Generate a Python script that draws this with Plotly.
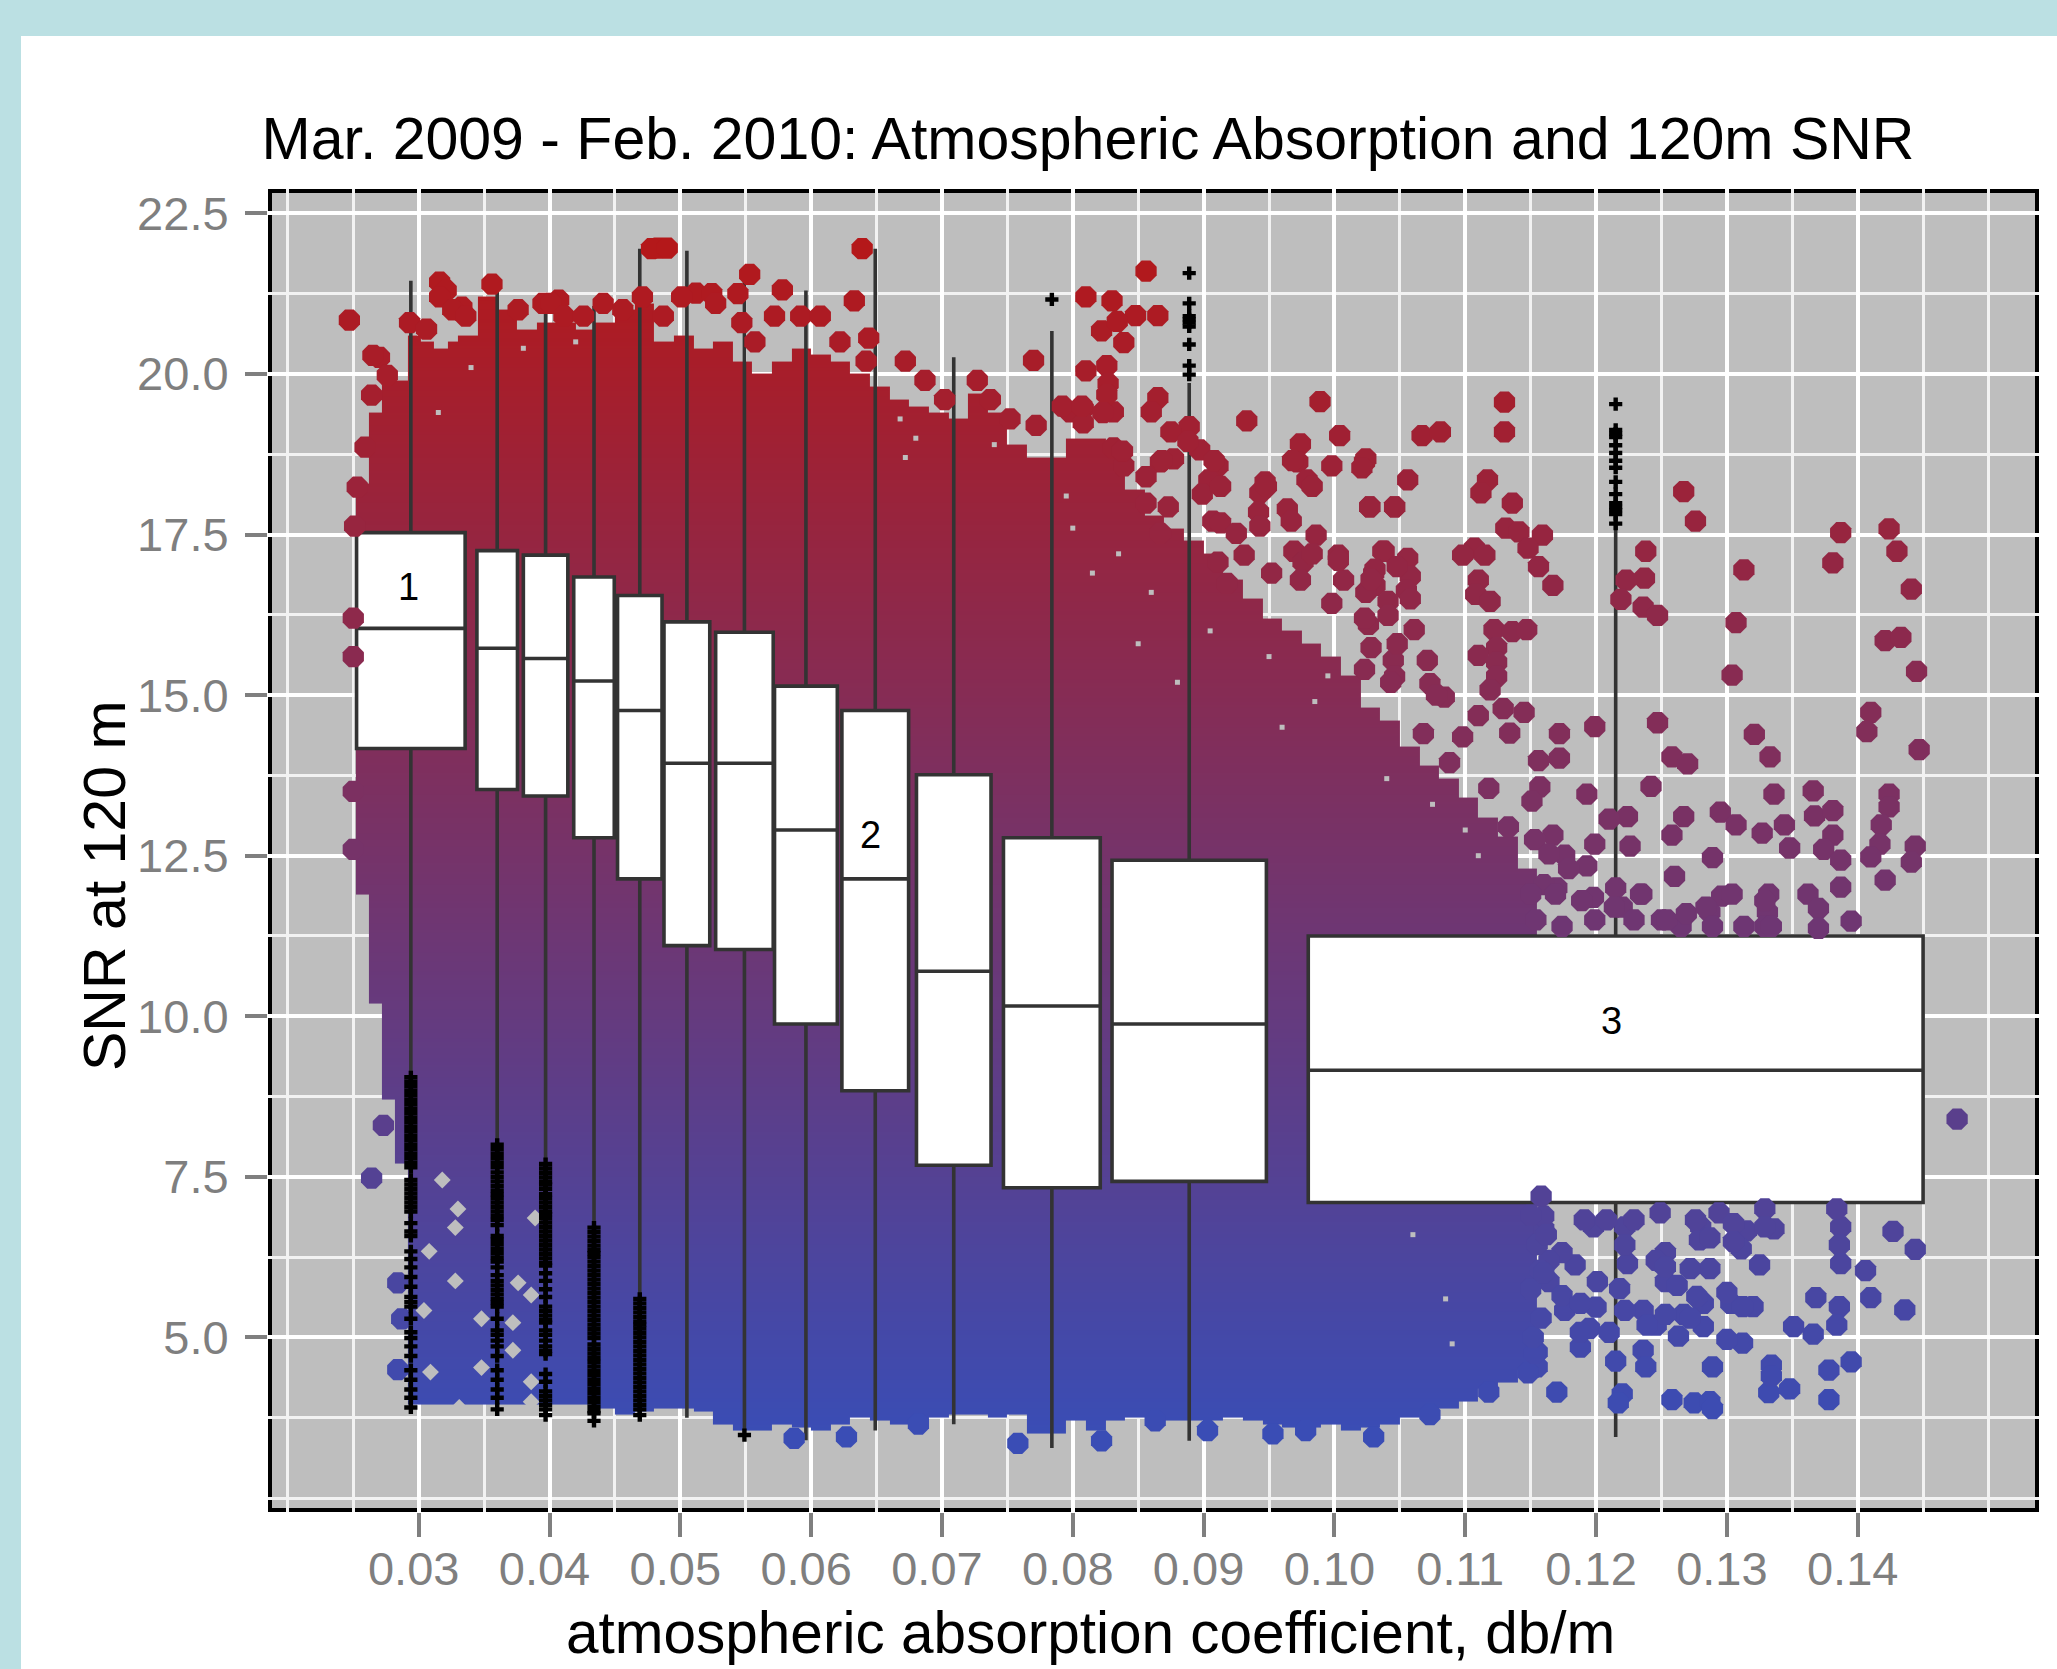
import numpy as np
import plotly.graph_objects as go

TITLE = "Mar. 2009 - Feb. 2010: Atmospheric Absorption and 120m SNR"
X_LABEL = "atmospheric absorption coefficient, db/m"
Y_LABEL = "SNR at 120 m"
x_ticks = [0.03, 0.04, 0.05, 0.06, 0.07, 0.08, 0.09, 0.10, 0.11, 0.12, 0.13, 0.14]
x_tick_labels = ["0.03", "0.04", "0.05", "0.06", "0.07", "0.08", "0.09", "0.10", "0.11", "0.12", "0.13", "0.14"]
x_minor = [0.02, 0.025, 0.035, 0.045, 0.055, 0.065, 0.075, 0.085, 0.095, 0.105, 0.115, 0.125, 0.135, 0.145, 0.15]
y_ticks = [5.0, 7.5, 10.0, 12.5, 15.0, 17.5, 20.0, 22.5]
y_tick_labels = ["5.0", "7.5", "10.0", "12.5", "15.0", "17.5", "20.0", "22.5"]
y_minor = [2.5, 3.75, 6.25, 8.75, 11.25, 13.75, 16.25, 18.75, 21.25]

# dense part of the point cloud: column edges with the top and bottom of the mass
cloud_edges = [.0252,.0262,.0272,.0282,.0292,.0302,.0312,.0322,.0330,.0345,.0360,.0375,.0390,.0405,.0420,.0435,.0450,.0465,.0480,.0495,.0510,.0525,.0540,.0555,.0570,.0585,.0600,.0615,.0630,.0645,.0660,.0675,.0690,.0705,.0720,.0735,.0750,.0765,.0780,.0795,.0810,.0825,.0840,.0855,.0870,.0885,.0900,.0915,.0930,.0945,.0960,.0975,.0990,.1005,.1020,.1035,.1050,.1065,.1080,.1095,.1110,.1125,.1140,.1155]
cloud_top = [18.3,19.4,19.9,19.9,20.6,20.5,20.4,20.5,20.6,21.2,21.0,20.7,20.8,20.8,20.7,20.8,21.0,21.1,20.5,20.6,20.4,20.5,20.2,20.0,20.2,20.4,20.3,20.2,20.0,19.8,19.6,19.5,19.4,19.3,19.7,19.4,18.9,18.7,18.7,19.0,19.0,18.8,18.2,17.8,17.6,17.4,17.2,16.8,16.5,16.2,16.0,15.8,15.6,15.3,14.8,14.6,14.2,13.9,13.7,13.4,13.1,12.8,12.3]
cloud_bottom = [11.9,10.2,8.7,7.7,3.95,3.95,3.95,3.95,3.95,3.95,3.95,3.95,3.95,3.95,3.95,3.9,3.8,3.85,3.9,3.9,3.85,3.65,3.55,3.55,3.65,3.6,3.55,3.65,3.75,3.7,3.65,3.7,3.75,3.8,3.8,3.75,3.8,3.5,3.5,3.7,3.55,3.7,3.75,3.65,3.7,3.7,3.7,3.75,3.7,3.65,3.6,3.6,3.65,3.55,3.6,3.65,3.75,3.85,3.9,4.0,4.2,4.3,4.5]

# isolated points around the mass
blob_x = [.0247,.0250,.0250,.0250,.0250,.0316,.0321,.0316,.0333,.0270,.0407,.0395,.0483,.0478,.0490,.0512,.0264,.0284,.0287,.0284,.0273,
 .0639,.0553,.0633,.0578,.0524,.0544,.0644,.0856,.0810,.0830,.0822,.0839,.0865,.0848,.0834,.0770,.0810,.0826,.0827,
 .0989,.0933,.1004,.0974,.0972,.0979,.0998,.1023,.0947,.0943,.1027,.1046,.0964,.0967,.0942,.0986,.0907,.0911,.0904,.0899,.0877,.0867,.0856,.0889,.0875,.0897,.0865,.0860,.0831,.0808,.0798,.0826,.0808,.0831,.0839,.0873,.0856,.0867,.0913,.0925,.0969,.0976,.1003,.1007,.1037,.1030,.0998,.0974,.0952,.0931,.0911,.0918,
 .1130,.1130,.1067,.1081,.1024,.1021,.1056,.1117,.1112,.1027,.1046,.1136,.1267,.1276,.1131,.1141,.1159,.1148,.1387,.1424,.1430,.1381,.1238,.1313,.1107,.1098,.1115,.1038,.1056,.1031,.1058,.1031,.1055,.1024,.1041,.1156,.1167,.1110,.1108,.1119,.1237,.1223,.1219,.1236,.1247,.1441,.1307,.1041,.1026,.1028,.1061,.1122,.1136,.1147,.1124,.1110,.1124,.1124,.1119,.1421,.1433,.1445,.1304,.1045,.1071,.1046,.1073,.1084,.1410,.1407,.1447,.1110,.1129,.1145,.1134,.1172,.1199,.1247,.1321,.1333,.1172,.1156,.1258,.1270,
 .1157,.1151,.1193,.1242,.1336,.1366,.1424,.1424,.1367,.1381,.1418,.1295,.1307,.1327,.1344,.1267,.1258,.1224,.1210,.1381,.1374,.1348,.1289,.1417,.1410,.1444,.1441,.1387,.1199,.1226,.1167,.1176,.1193,.1260,.1421,.1387,.1296,.1332,.1362,.1370,.1287,.1331,.1395,.1313,.1370,.1329,.1215,.1235,.1250,.1265,.1220,.1198,.1170,.1160,.1150,
 .1476,.1427,.1444,.1387,.1386,.1387,.1406,.1410,.1436,.1368,.1386,.1384,.1366,.1351,.1395,.1378,.1378,.1348,.1332,.1334,.1334,.1325,.1336,.1315,.1311,.1287,.1272,.1280,.1294,.1279,.1320,.1303,.1282,.1282,.1312,.1300,.1263,.1267,.1246,.1236,.1253,.1253,.1249,.1329,.1289,.1258,.1275,.1287,.1289,.1236,.1238,.1215,.1220,.1217,.1170,.1188,.1155,.1155,.1176,.1184,.1201,.1200,.1195,.1210,.1222,.1218,.1224,.1222,.1198,.1160,.1222]
blob_y = [20.84,16.2,15.6,13.5,12.6,21.43,21.3,21.2,21.04,20.26,21.15,21.1,21.96,21.95,21.96,21.26,7.48,5.85,5.29,4.5,8.3,
 21.95,21.55,21.14,21.31,21.25,21.25,20.56,21.6,21.2,21.14,20.67,20.49,20.91,20.91,20.82,20.21,20.05,20.13,19.85,
 19.57,19.27,19.04,18.91,18.63,18.35,18.57,18.63,18.32,18.15,17.93,17.93,17.9,17.71,17.85,17.49,17.71,18.57,18.35,18.13,18.68,18.63,18.4,19.18,19.1,18.82,19.63,19.41,19.41,19.46,19.41,19.68,19.24,18.85,18.57,17.93,17.99,17.52,17.68,17.52,17.24,17.07,17.18,16.79,17.24,16.9,16.43,16.79,16.9,17.18,17.07,16.74,
 19.56,19.1,19.04,19.1,18.68,18.54,18.35,18.35,18.15,17.93,17.93,17.99,18.17,17.71,17.6,17.54,17.49,17.29,17.53,17.59,17.24,17.06,17.24,16.95,17.29,17.18,17.18,17.24,17.13,16.96,16.85,16.71,16.63,16.6,16.46,17.0,16.71,16.79,16.57,16.46,16.82,16.79,16.49,16.37,16.24,16.65,16.13,16.24,16.1,15.74,16.02,16.02,15.99,16.02,15.74,15.62,15.51,15.29,15.08,15.85,15.9,15.37,15.31,15.54,15.54,15.29,15.18,14.97,14.73,14.43,14.15,14.68,14.79,14.73,14.41,14.4,14.51,14.57,14.39,14.04,14.02,13.98,14.04,13.93,
 13.57,13.35,13.46,13.58,13.46,13.51,13.46,13.26,13.12,13.2,12.98,13.18,12.98,12.85,12.98,13.11,12.82,13.11,13.07,12.82,12.6,12.62,12.47,12.68,12.48,12.65,12.4,12.43,12.68,12.65,12.82,12.51,12.34,12.18,12.12,12.01,11.87,11.9,11.9,11.68,11.62,11.62,11.48,11.4,11.37,11.4,12.0,11.9,11.5,11.4,11.7,11.85,12.0,12.05,11.9,
 8.40,6.65,6.37,6.72,6.44,6.15,6.04,5.62,5.43,5.62,5.48,5.19,5.05,5.17,4.62,4.49,4.03,4.2,4.14,4.57,4.4,6.13,6.69,6.66,6.38,6.07,6.07,6.72,6.94,6.52,5.48,5.53,5.53,5.17,4.91,4.97,5.02,5.36,5.19,5.42,5.87,6.32,6.94,7.0,4.54,4.03,3.98,4.0,3.89,4.8,4.54,4.63,4.12,3.98,4.15,4.85,4.77,4.54,5.42,6.13,5.87,5.47,5.14,5.08,5.42,5.76,6.15,6.72,6.72,6.69,6.44]

# points that scallop the rim of the mass
edge_x = [.0265,.0276,.0264,.0259,.0253,.0251,.0293,.0306,.0326,.0336,.0356,.0376,.0401,.0411,.0426,.0441,.0456,.0471,.0487,.0501,.0527,.0547,.0557,.0572,.0592,.0607,.0622,.0642,.0672,.0687,.0702,.0727,.0737,.0752,.0772,.0792,.0807,.0823,.0838,.0868,.0888,.0908,
 .0913,.0948,.0968,.0983,.0943,.0983,.1003,.1028,.1048,.1058,.1023,.1048,.1078,.1098,.1118,.1133,.1153,.1023,.1043,.1068,.1088,
 .1164,.1179,.1169,.1189,.1154,.1174,.1199,.1214,.1234,.1229,.1254,.1269,.1284,.1304,.1329,.1334,.1289,
 .1174,.1164,.1157,.1164,.1174,.1188,.1188,.1160,.1191,.1208,.1229,.1246,.1253,.1262,.1277,.1300,.1312,.1272,.1253,.1239,.1276,.1305,.1329,.1287,.1305,.1384,
 .0758,.0822,.0587,.0627,.1030,.0978,.0953,.0903,.0863,.0682,.1073,.1118,.1148,.1153,
 .1152,.1158,.1150,.1160,.1155,.1162,.1150,.1158]
edge_y = [20.29,19.98,19.67,18.86,18.24,17.63,20.8,20.7,21.0,20.9,21.4,21.0,21.1,20.9,20.9,21.1,21.0,21.2,20.9,21.2,21.1,20.8,20.5,20.9,20.9,20.9,20.5,20.2,20.2,19.9,19.6,19.9,19.6,19.3,19.2,19.5,19.5,19.4,18.8,18.65,18.95,18.65,
 18.25,18.25,18.65,18.25,17.63,17.2,17.1,16.8,17.0,16.5,16.2,15.8,15.0,14.35,13.55,12.95,12.75,15.4,15.2,14.4,13.95,
 12.53,12.3,11.9,11.8,11.5,11.4,11.5,11.7,11.9,11.5,11.5,11.6,11.7,11.9,11.8,11.4,11.4,
 6.32,6.2,6.04,5.87,5.65,5.53,5.08,6.89,6.83,6.83,6.83,6.2,6.1,5.81,5.64,5.7,5.48,5.3,5.36,5.19,6.83,6.77,6.72,6.55,6.49,7.0,
 3.35,3.39,3.43,3.45,3.45,3.55,3.5,3.55,3.7,3.65,3.8,4.15,4.45,4.75,
 5.0,5.3,5.75,6.0,6.45,6.6,6.9,7.2]

# larger holes in the mass where the panel shows through (lower left)
gap_x = [.0328,.0330,.0308,.0328,.0304,.0372,.0348,.0376,.0386,.0372,.0348,.0309,.0386,.0331,.0386,.0318,.0389]
gap_y = [6.71,7.0,6.34,5.88,5.42,5.23,5.29,5.85,5.66,4.8,4.53,4.46,4.31,3.91,4.0,7.45,6.86]
# small holes elsewhere
pin_x = [.0668,.0680,.0672,.0740,.0912,.0795,.0800,.0835,.0815,.0860,.1060,.1085,.1090,.0950,.0995,.0985,.0960,.0905,.0880,.0850,.1040,.1075,.1100,.1110,.0380,.0420,.0315,.0340]
pin_y = [19.3,19.0,18.7,18.9,18.3,18.1,17.6,17.2,16.9,16.6,6.6,5.6,4.9,15.6,15.3,14.9,14.5,16.0,15.2,15.8,13.7,13.3,12.9,12.5,20.4,20.5,19.4,20.1]

# box statistics, one entry per box
box_center = [.0294,.0360,.0397,.0434,.0469,.0505,.0549,.0596,.0649,.0709,.0784,.0889,.1215]
box_width = [.0083,.0031,.0034,.0031,.0034,.0035,.0044,.0048,.0051,.0057,.0074,.0118,.0470]
box_q1 = [14.17,13.53,13.43,12.78,12.14,11.1,11.04,9.88,8.84,7.68,7.33,7.43,7.1]
box_median = [16.04,15.73,15.57,15.22,14.76,13.94,13.94,12.9,12.14,10.7,10.16,9.88,9.16]
box_q3 = [17.53,17.25,17.18,16.84,16.55,16.14,15.98,15.14,14.76,13.76,12.78,12.43,11.25]
box_low = [9.1,8.05,7.75,6.72,5.63,3.75,3.45,3.4,3.55,3.65,3.28,3.39,3.45]
box_high = [21.45,21.4,21.1,21.06,21.95,21.92,21.55,21.3,21.95,20.26,20.67,19.86,17.65]

# outliers per box
out_1 = [9.05,8.98,8.91,8.84,8.77,8.70,8.63,8.56,8.49,8.42,8.35,8.28,8.21,8.14,8.07,8.0,7.93,7.86,7.79,7.72,7.65,7.45,7.38,7.31,7.24,7.17,7.10,7.03,6.96,6.78,6.65,6.58,6.34,6.22,6.09,5.94,5.79,5.63,5.55,5.48,5.29,5.08,4.99,4.86,4.71,4.49,4.34,4.19,4.06,3.91]
out_2 = [8.0,7.93,7.86,7.79,7.72,7.65,7.57,7.50,7.43,7.36,7.29,7.23,7.17,7.10,7.03,6.96,6.89,6.83,6.75,6.58,6.52,6.45,6.38,6.31,6.24,6.18,6.09,5.97,5.88,5.81,5.74,5.67,5.60,5.54,5.48,5.29,5.11,5.04,4.95,4.86,4.71,4.49,4.34,4.19,4.06,3.88]
out_3 = [7.7,7.63,7.56,7.49,7.42,7.38,7.31,7.23,7.17,7.10,7.03,6.96,6.92,6.86,6.79,6.72,6.65,6.58,6.51,6.44,6.37,6.30,6.23,6.16,6.12,6.0,5.88,5.75,5.63,5.48,5.41,5.34,5.27,5.23,5.11,5.04,4.95,4.86,4.79,4.74,4.43,4.31,4.16,4.09,4.02,3.95,3.88,3.79]
out_4 = [6.71,6.64,6.57,6.50,6.43,6.36,6.31,6.25,6.18,6.11,6.04,5.97,5.90,5.83,5.76,5.69,5.62,5.55,5.48,5.41,5.34,5.27,5.20,5.13,5.06,4.99,4.89,4.82,4.75,4.68,4.62,4.55,4.48,4.41,4.34,4.27,4.20,4.13,4.06,3.99,3.92,3.85,3.82,3.7]
out_5 = [5.6,5.53,5.46,5.39,5.32,5.25,5.2,5.14,5.07,5.0,4.93,4.86,4.79,4.72,4.65,4.58,4.51,4.44,4.37,4.30,4.23,4.16,4.09,4.02,3.95,3.88,3.79]
out_7 = [3.48]
out_11 = [21.16]
out_12 = [21.57,21.1,20.9,20.85,20.8,20.74,20.46,20.13,19.99]
out_13 = [19.53,19.13,19.07,19.02,18.89,18.77,18.65,18.54,18.32,18.13,17.99,17.93,17.88,17.82,17.67]
outliers = [(.0294,out_1),(.0360,out_2),(.0397,out_3),(.0434,out_4),(.0469,out_5),(.0549,out_7),(.0784,out_11),(.0889,out_12),(.1215,out_13)]

box_notes = ["1", "2", "3"]
note_x = [.0292, .0645, .1212]
note_y = [16.68, 12.82, 9.92]

W, H = 2057, 1669
L, R, T, B = 268, 2039, 189, 1512
COLOR_LOW, COLOR_HIGH = "#3A4DB5", "#B4181A"
scale = [[0, COLOR_LOW], [1, COLOR_HIGH]]
CMIN, CMAX = 3.5, 22.0
PANEL = "#BEBEBE"

fig = go.Figure()

# mass of the cloud, coloured by its SNR
rows = np.arange(3.2, 22.01, 0.05)
z = np.full((len(rows) - 1, len(cloud_top)), np.nan)
for j, (lo, hi) in enumerate(zip(cloud_bottom, cloud_top)):
    for i in range(len(rows) - 1):
        mid = (rows[i] + rows[i + 1]) / 2
        if lo <= mid <= hi:
            z[i, j] = mid
fig.add_trace(go.Heatmap(x=cloud_edges, y=rows, z=z, colorscale=scale, zmin=CMIN, zmax=CMAX,
                         showscale=False, hoverinfo="skip", zsmooth=False))
fig.add_trace(go.Scatter(x=gap_x, y=gap_y, mode="markers", showlegend=False, hoverinfo="skip",
                         marker=dict(symbol="diamond", size=13, color=PANEL)))
fig.add_trace(go.Scatter(x=pin_x, y=pin_y, mode="markers", showlegend=False, hoverinfo="skip",
                         marker=dict(symbol="square", size=5, color=PANEL)))
all_x = blob_x + edge_x
all_y = blob_y + edge_y
fig.add_trace(go.Scatter(x=all_x, y=all_y, mode="markers", showlegend=False,
                         marker=dict(symbol="octagon", size=23, color=all_y, colorscale=scale,
                                     cmin=CMIN, cmax=CMAX, line=dict(width=0))))

for i in range(len(box_center)):
    fig.add_trace(go.Box(x=[box_center[i]], q1=[box_q1[i]], median=[box_median[i]], q3=[box_q3[i]],
                         lowerfence=[box_low[i]], upperfence=[box_high[i]], width=box_width[i],
                         whiskerwidth=0, fillcolor="white", line=dict(color="#333333", width=3.6),
                         boxpoints=False, showlegend=False))

for cx, ys in outliers:
    fig.add_trace(go.Scatter(x=[cx] * len(ys), y=ys, mode="markers", showlegend=False,
                             marker=dict(symbol="cross", size=11, color="black", line=dict(width=0))))

ann_font = dict(family="Liberation Sans", color="black")
annotations = [dict(x=nx, y=ny, text=t, showarrow=False, xref="x", yref="y",
                    font=dict(family="Liberation Sans", size=38, color="black"))
               for nx, ny, t in zip(note_x, note_y, box_notes)]
annotations.append(dict(text=X_LABEL, x=(1090 - L) / (R - L), y=(B - 1632) / (B - T), xref="paper", yref="paper",
                        showarrow=False, xanchor="center", yanchor="middle", font=dict(size=58.5, **ann_font)))
annotations.append(dict(text=Y_LABEL, x=(105 - L) / (R - L), y=(B - 886) / (B - T), xref="paper", yref="paper",
                        showarrow=False, xanchor="center", yanchor="middle", textangle=-90, font=dict(size=59, **ann_font)))

bw = 4
shapes = [
    dict(type="rect", xref="paper", yref="paper", x0=-L / (R - L), x1=(W - L) / (R - L),
         y0=(B - 36) / (B - T), y1=(B) / (B - T), fillcolor="#BBE0E3", line_width=0, layer="below"),
    dict(type="rect", xref="paper", yref="paper", x0=-L / (R - L), x1=(21 - L) / (R - L),
         y0=(B - H) / (B - T), y1=(B) / (B - T), fillcolor="#BBE0E3", line_width=0, layer="below"),
    dict(type="rect", xref="paper", yref="paper", x0=(bw / 2) / (R - L), x1=1 - (bw / 2) / (R - L),
         y0=(bw / 2) / (B - T), y1=1 - (bw / 2) / (B - T), line=dict(color="black", width=bw),
         fillcolor="rgba(0,0,0,0)", layer="below"),
]

tick_font = dict(family="Liberation Sans", size=47, color="#7F7F7F")
fig.update_layout(
    width=W, height=H, autosize=False,
    margin=dict(l=L, r=W - R, t=T, b=H - B, pad=0),
    paper_bgcolor="white", plot_bgcolor=PANEL, boxmode="overlay",
    showlegend=False, font=dict(family="Liberation Sans"),
    title=dict(text=TITLE, x=1088 / W, y=1 - 138 / H, xanchor="center", yanchor="middle", xref="container", yref="container",
               font=dict(family="Liberation Sans", size=59, color="black")),
    annotations=annotations, shapes=shapes,
    xaxis=dict(range=[0.01848, 0.15386], tickmode="array", tickvals=x_ticks, ticktext=x_tick_labels,
               showgrid=True, gridcolor="white", gridwidth=3.5, zeroline=False, showline=False,
               ticks="outside", ticklen=24, tickwidth=3.5, tickcolor="#7F7F7F", tickfont=tick_font,
               ticklabelstandoff=-8, ticklabelshift=-5,
               minor=dict(tickmode="array", tickvals=x_minor, showgrid=True, gridcolor="#F2F2F2", gridwidth=3, ticks="")),
    yaxis=dict(range=[2.282, 22.88], tickmode="array", tickvals=y_ticks, ticktext=y_tick_labels,
               showgrid=True, gridcolor="white", gridwidth=3.5, zeroline=False, showline=False,
               ticks="outside", ticklen=22, tickwidth=3.5, tickcolor="#7F7F7F", tickfont=tick_font,
               ticklabelstandoff=7,
               minor=dict(tickmode="array", tickvals=y_minor, showgrid=True, gridcolor="#F2F2F2", gridwidth=3, ticks="")),
)

fig.write_html("out.html", config={"displayModeBar": False},
               post_script="document.body.style.margin='0';document.body.style.overflow='hidden';")
